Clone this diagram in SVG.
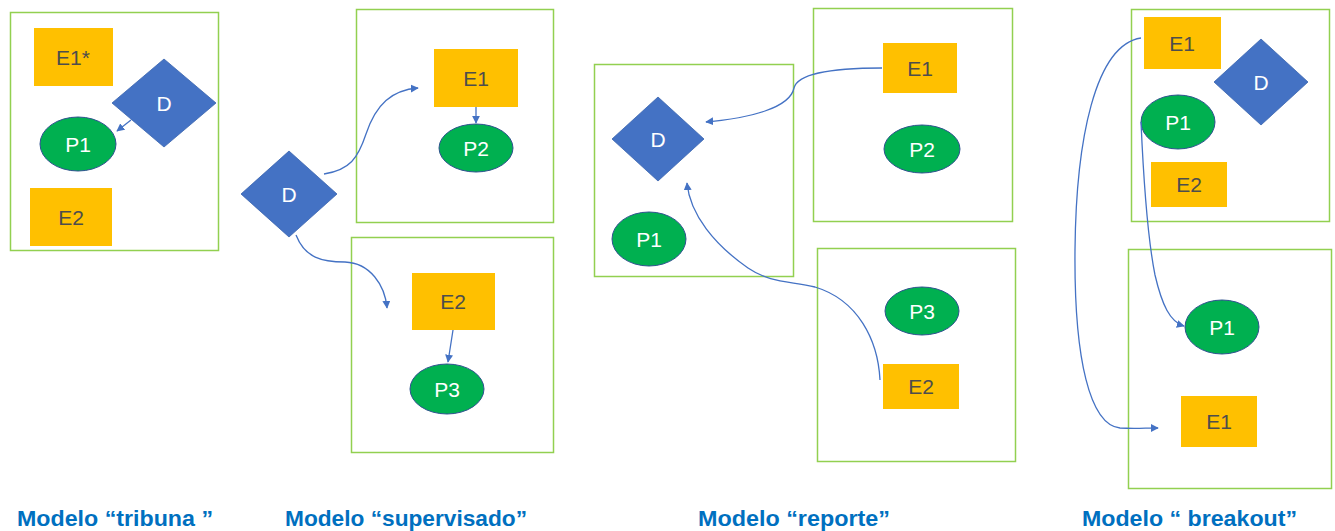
<svg xmlns="http://www.w3.org/2000/svg" width="1335" height="531" viewBox="0 0 1335 531">
  <defs>
    <marker id="arrow" viewBox="0 0 10 10" refX="9" refY="5" markerWidth="8" markerHeight="8" markerUnits="userSpaceOnUse" orient="auto">
      <path d="M0,0 L10,5 L0,10 Z" fill="#4472C4"/>
    </marker>
  </defs>
  <style>
    .frame { fill: none; stroke: #92D050; stroke-width: 1.5; }
    .exp { fill: #FFC000; }
    .exp-t { font-family: "Liberation Sans", Arial, sans-serif; font-size: 21px; fill: #4D4D4D; text-anchor: middle; dominant-baseline: central; }
    .person { fill: #00B050; stroke: #2F528F; stroke-width: 1; }
    .dec { fill: #4472C4; stroke: #3A64AE; stroke-width: 0.8; }
    .light-t { font-family: "Liberation Sans", Arial, sans-serif; font-size: 21px; fill: #FFFFFF; text-anchor: middle; dominant-baseline: central; }
    .link { fill: none; stroke: #4472C4; stroke-width: 1.3; marker-end: url(#arrow); }
    .caption { font-family: "Liberation Sans", Arial, sans-serif; font-size: 22px; font-weight: bold; fill: #0070C0; }
  </style>

  <!-- Container frames -->
  <g id="frames">
    <rect id="frame-tribuna" class="frame" x="10.5" y="12.5" width="208" height="238"/>
    <rect id="frame-sup-1" class="frame" x="356.5" y="9.5" width="197" height="213"/>
    <rect id="frame-sup-2" class="frame" x="351.5" y="237.5" width="202" height="215"/>
    <rect id="frame-rep-1" class="frame" x="594.5" y="64.5" width="199" height="212"/>
    <rect id="frame-rep-2" class="frame" x="813.5" y="8.5" width="199" height="213"/>
    <rect id="frame-rep-3" class="frame" x="817.5" y="248.5" width="198" height="213"/>
    <rect id="frame-brk-1" class="frame" x="1131.5" y="9.5" width="198" height="212"/>
    <rect id="frame-brk-2" class="frame" x="1128.5" y="249.5" width="203" height="239"/>
  </g>

  <!-- Modelo tribuna -->
  <g id="t-e1">
    <rect class="exp" x="34" y="28" width="79" height="58"/>
    <text class="exp-t" x="73" y="57">E1*</text>
  </g>
  <g id="t-d">
    <polygon class="dec" points="164,59 216,103 164,147 112,103"/>
    <text class="light-t" x="164" y="103">D</text>
  </g>
  <g id="t-p1">
    <ellipse class="person" cx="78" cy="144" rx="38" ry="27"/>
    <text class="light-t" x="78" y="144">P1</text>
  </g>
  <g id="t-e2">
    <rect class="exp" x="30" y="188" width="82" height="58"/>
    <text class="exp-t" x="71" y="217">E2</text>
  </g>

  <!-- Modelo supervisado -->
  <g id="s-d">
    <polygon class="dec" points="289,151 337,194 289,237 241,194"/>
    <text class="light-t" x="289" y="194">D</text>
  </g>
  <g id="s-e1">
    <rect class="exp" x="434" y="49" width="84" height="58"/>
    <text class="exp-t" x="476" y="78">E1</text>
  </g>
  <g id="s-p2">
    <ellipse class="person" cx="476" cy="148" rx="37" ry="24"/>
    <text class="light-t" x="476" y="148">P2</text>
  </g>
  <g id="s-e2">
    <rect class="exp" x="412" y="273" width="83" height="57"/>
    <text class="exp-t" x="453" y="301">E2</text>
  </g>
  <g id="s-p3">
    <ellipse class="person" cx="447" cy="389" rx="37" ry="25"/>
    <text class="light-t" x="447" y="389">P3</text>
  </g>

  <!-- Modelo reporte -->
  <g id="r-d">
    <polygon class="dec" points="658,97 704,139 658,181 612,139"/>
    <text class="light-t" x="658" y="139">D</text>
  </g>
  <g id="r-p1">
    <ellipse class="person" cx="649" cy="239" rx="37" ry="27"/>
    <text class="light-t" x="649" y="239">P1</text>
  </g>
  <g id="r-e1">
    <rect class="exp" x="883" y="43" width="74" height="50"/>
    <text class="exp-t" x="920" y="68">E1</text>
  </g>
  <g id="r-p2">
    <ellipse class="person" cx="922" cy="149" rx="38" ry="24"/>
    <text class="light-t" x="922" y="149">P2</text>
  </g>
  <g id="r-p3">
    <ellipse class="person" cx="922" cy="311" rx="37" ry="24"/>
    <text class="light-t" x="922" y="311">P3</text>
  </g>
  <g id="r-e2">
    <rect class="exp" x="883" y="364" width="76" height="45"/>
    <text class="exp-t" x="921" y="386">E2</text>
  </g>

  <!-- Modelo breakout -->
  <g id="b-e1">
    <rect class="exp" x="1144" y="17" width="77" height="52"/>
    <text class="exp-t" x="1182" y="43">E1</text>
  </g>
  <g id="b-d">
    <polygon class="dec" points="1261,39 1308,82 1261,125 1214,82"/>
    <text class="light-t" x="1261" y="82">D</text>
  </g>
  <g id="b-p1">
    <ellipse class="person" cx="1178" cy="122" rx="37" ry="27"/>
    <text class="light-t" x="1178" y="122">P1</text>
  </g>
  <g id="b-e2">
    <rect class="exp" x="1151" y="162" width="76" height="45"/>
    <text class="exp-t" x="1189" y="184">E2</text>
  </g>
  <g id="b-p1-room">
    <ellipse class="person" cx="1222" cy="327" rx="37" ry="27"/>
    <text class="light-t" x="1222" y="327">P1</text>
  </g>
  <g id="b-e1-room">
    <rect class="exp" x="1181" y="396" width="76" height="51"/>
    <text class="exp-t" x="1219" y="421">E1</text>
  </g>

  <!-- Connectors -->
  <g id="connectors">
    <path class="link" d="M131,120 L117,131"/>
    <path class="link" d="M324,174 C350,170 358,158 366,134 C376,104 392,90 418,88"/>
    <path class="link" d="M476,107 L476,123"/>
    <path class="link" d="M296,235 C305,258 322,262 345,262 C370,263 385,285 387,308"/>
    <path class="link" d="M453,330 L448,362"/>
    <path class="link" d="M882,68 C840,68 798,72 794,88 C790,108 750,118 706,122"/>
    <path class="link" d="M880,380 C878,340 858,300 815,287 C790,281 770,283 748,268 C715,245 690,215 687,183"/>
    <path class="link" d="M1141,38 C1095,45 1076,140 1075,250 C1074,360 1090,425 1120,428 C1135,429 1145,428 1158,428"/>
    <path class="link" d="M1141,122 C1144,190 1148,240 1155,275 C1162,305 1170,322 1184,326"/>
  </g>

  <!-- Captions -->
  <g id="captions">
    <text class="caption" x="17" y="526" textLength="196" lengthAdjust="spacingAndGlyphs">Modelo “tribuna ”</text>
    <text class="caption" x="285" y="526" textLength="242" lengthAdjust="spacingAndGlyphs">Modelo “supervisado”</text>
    <text class="caption" x="698" y="526" textLength="192" lengthAdjust="spacingAndGlyphs">Modelo “reporte”</text>
    <text class="caption" x="1082" y="526" textLength="215" lengthAdjust="spacingAndGlyphs">Modelo “ breakout”</text>
  </g>
</svg>
